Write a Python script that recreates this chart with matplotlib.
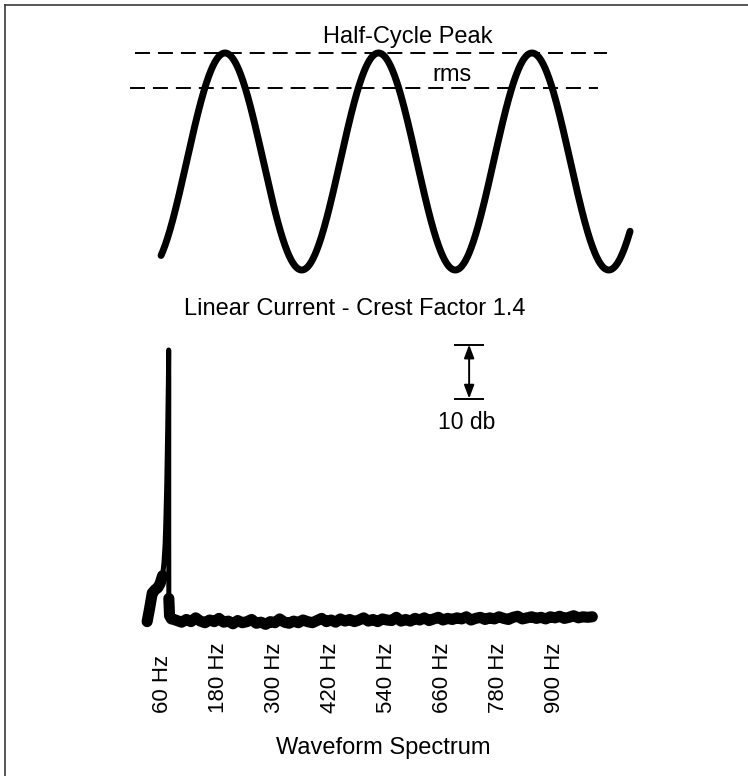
import numpy as np
import matplotlib
matplotlib.use('Agg')
import matplotlib.pyplot as plt
from matplotlib.lines import Line2D

plt.rcParams['font.family'] = ['Liberation Sans', 'DejaVu Sans']

W, H = 748, 776

# top panel: linear current, phase in degrees, current relative to peak
wave_start_deg = -150
wave_end_deg = 950
peak_level = 1.0
rms_level = 0.68
peak_line_span = [-211, 896]
rms_line_span = [-223, 875]

# bottom panel: spectrum (frequency in Hz, level in dB above the noise floor)
tick_freqs = [60, 180, 300, 420, 540, 660, 780, 900]
tick_labels = ['60 Hz', '180 Hz', '300 Hz', '420 Hz', '540 Hz', '660 Hz', '780 Hz', '900 Hz']

spike_freq = [26, 31, 37, 43, 49, 54, 59, 62, 64.5, 66, 68, 70, 71.5, 72.2,
              72.4, 72.3, 72.3, 72.5, 74, 78]
spike_db = [-0.3, 2.0, 5.0, 5.6, 6.0, 6.8, 8.2, 10.5, 14, 18, 25, 35, 44, 50.0,
            44, 30, 15, 4, 0.8, 0.2]

floor_freq = list(range(80, 990, 10))
floor_db = [0.2, -0.1, -0.4, 0.1, -0.3, 0.4, -0.2, -0.5, 0.0, -0.3,
            0.3, -0.4, -0.2, -0.7, -0.1, -0.5, -0.3, 0.1, -0.6, -0.4,
            -0.8, -0.3, -0.5, 0.2, -0.4, -0.6, -0.2, -0.5, 0.0, -0.3,
            -0.5, -0.1, 0.3, -0.3, 0.0, -0.4, 0.2, -0.2, 0.1, -0.3,
            0.0, 0.4, -0.2, 0.1, -0.3, 0.2, 0.0, -0.1, 0.5, -0.2,
            0.1, -0.2, 0.3, 0.0, 0.4, -0.1, 0.2, 0.5, 0.0, 0.3,
            0.1, 0.4, 0.2, 0.6, 0.0, 0.3, 0.5, 0.1, 0.4, 0.2,
            0.6, 0.3, 0.1, 0.5, 0.7, 0.2, 0.4, 0.6, 0.3, 0.5,
            0.2, 0.6, 0.4, 0.7, 0.3, 0.5, 0.8, 0.4, 0.6, 0.5,
            0.6]

scale_bar_freq = 716
scale_bar_db = [41, 51]


def fx(px):
    return px / W


def fy(py):
    return 1 - py / H


fig = plt.figure(figsize=(W / 100, H / 100), dpi=100)

# scanned frame (top and left edges only)
fig.add_artist(Line2D([fx(5), 1], [fy(4.5), fy(4.5)], color='#3a3a3a', lw=1.2))
fig.add_artist(Line2D([fx(5), fx(5)], [fy(4.5), 0], color='#3a3a3a', lw=1.2))

# ---- waveform ----
ax1 = fig.add_axes([fx(100), fy(300), 560 / W, 280 / H])
phase = np.linspace(wave_start_deg, wave_end_deg, 800)
ax1.plot(phase, peak_level * np.cos(np.radians(phase)), color='black', lw=5,
         solid_capstyle='round')
dash = (0, (7.7, 4.1))
ax1.plot(peak_line_span, [peak_level, peak_level], color='black', lw=1.4, linestyle=dash)
ax1.plot(rms_line_span, [rms_level, rms_level], color='black', lw=1.4, linestyle=dash)
ax1.set_xlim(-293.2, 1020.2)
ax1.set_ylim(-1.2765, 1.304)
ax1.axis('off')

fig.text(fx(407.5), fy(43.5), 'Half-Cycle Peak', ha='center', va='baseline', fontsize=17)
fig.text(fx(452.5), fy(81), 'rms', ha='center', va='baseline', fontsize=17)
fig.text(fx(355), fy(315), 'Linear Current - Crest Factor 1.4', ha='center',
         va='baseline', fontsize=17)

# ---- spectrum ----
ax2 = fig.add_axes([fx(100), fy(640), 560 / W, 310 / H])
spec_f = np.array(spike_freq + floor_freq, dtype=float)
spec_db = np.array(spike_db + floor_db, dtype=float)
ax2.plot(spec_f, spec_db, color='black', lw=3.6, solid_joinstyle='round',
         solid_capstyle='round')
thick = np.ma.masked_where(spec_db > 9, spec_db)
ax2.plot(spec_f, thick, color='black', lw=8, solid_joinstyle='round',
         solid_capstyle='round')

# 10 dB scale marker
ax2.hlines(scale_bar_db, scale_bar_freq - 32, scale_bar_freq + 32, color='black', lw=1.4)
ax2.annotate('', xy=(scale_bar_freq, scale_bar_db[0]), xytext=(scale_bar_freq, scale_bar_db[1]),
             arrowprops=dict(arrowstyle='<|-|>,head_length=0.8,head_width=0.3',
                             color='black', lw=1.4, shrinkA=0, shrinkB=0))
fig.text(fx(466.7), fy(429), '10 db', ha='center', va='baseline', fontsize=16.5)

ax2.set_xlim(-75, 1125)
ax2.set_ylim(-3.7, 53.7)
ax2.set_xticks(tick_freqs, tick_labels, rotation=90, fontsize=16)
ax2.set_yticks([])
ax2.tick_params(axis='x', length=0, pad=(713 - 640) * 0.72)
for lab in ax2.get_xticklabels():
    lab.set_verticalalignment('bottom')
for s in ax2.spines.values():
    s.set_visible(False)

fig.text(fx(383.5), fy(754), 'Waveform Spectrum', ha='center', va='baseline', fontsize=17)

fig.savefig('out.png', dpi=100, facecolor='white')
